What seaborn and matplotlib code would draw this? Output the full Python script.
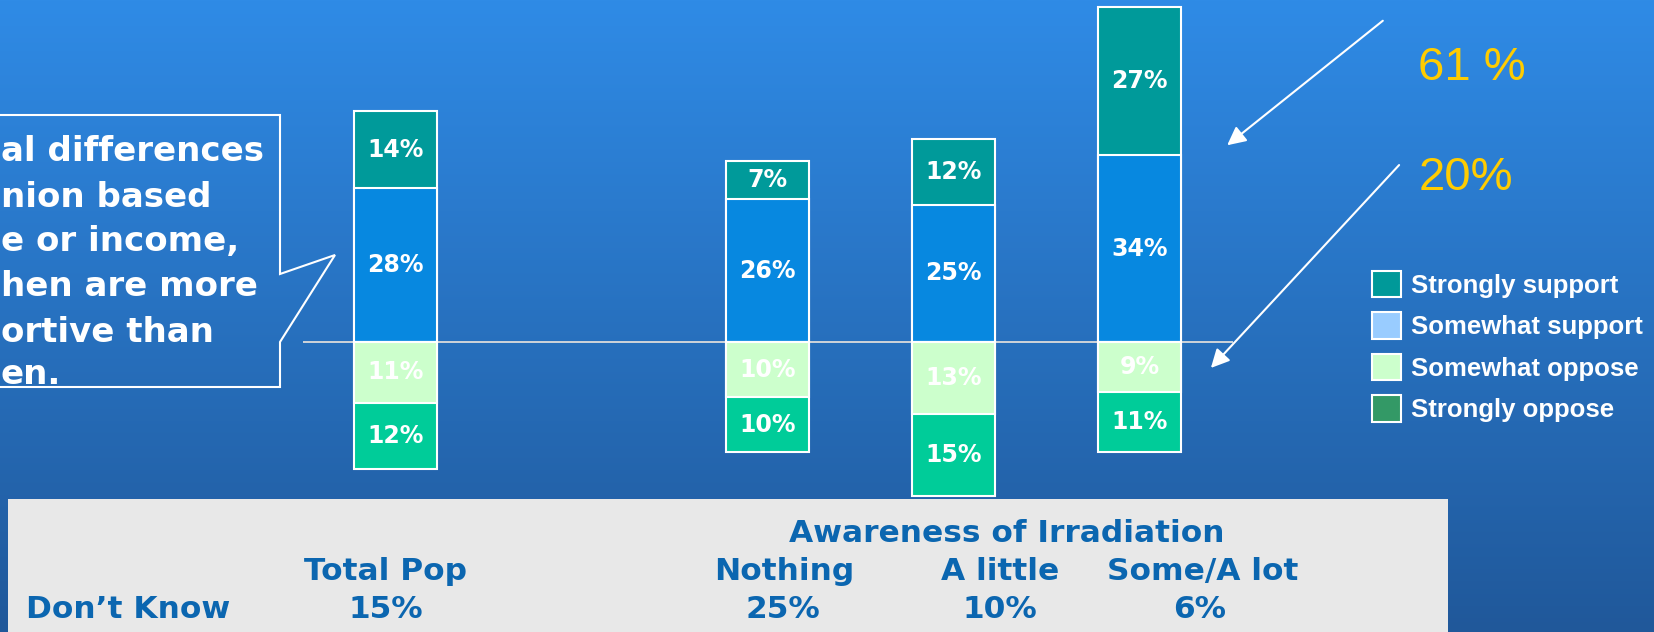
import numpy as np
import matplotlib
matplotlib.use("Agg")
import matplotlib.pyplot as plt
from matplotlib.patches import Patch, Polygon, Rectangle
import seaborn as sns

# data
groups = ["Total Pop", "Nothing", "A little", "Some/A lot"]
strongly_support = [14, 7, 12, 27]
somewhat_support = [28, 26, 25, 34]
somewhat_oppose = [11, 10, 13, 9]
strongly_oppose = [12, 10, 15, 11]
dont_know = ["15%", "25%", "10%", "6%"]
legend_labels = ["Strongly support", "Somewhat support", "Somewhat oppose", "Strongly oppose"]
callout_lines = ["al differences", "nion based", "e or income,", "hen are more", "ortive than", "en."]
support_total = "61 %"
oppose_total = "20%"

bar_pos = [0, 2, 3, 4]

# colours
c_ss = "#009a9a"
c_sw = "#0788e0"
c_so = "#ccffcc"
c_sop = "#00cc99"
legend_colors = ["#009999", "#99ccff", "#ccffcc", "#339966"]
table_blue = "#0b66b0"

sns.set_style("white")
W, H = 1654, 632
fig = plt.figure(figsize=(W / 100, H / 100), dpi=100)

# background gradient
bg = fig.add_axes([0, 0, 1, 1], zorder=0)
top = np.array([47, 139, 230]) / 255
bot = np.array([32, 88, 154]) / 255
t = np.linspace(0, 1, 256)[:, None]
grad = (top[None, :] * (1 - t) + bot[None, :] * t)[:, None, :]
bg.imshow(grad, aspect="auto", extent=[0, 1, 0, 1])
bg.set_axis_off()

# bars
ax = fig.add_axes([0, 0, 1, 1], zorder=1)
ax.patch.set_alpha(0)
pos_total = [a + b for a, b in zip(strongly_support, somewhat_support)]
neg_total = [-(a + b) for a, b in zip(somewhat_oppose, strongly_oppose)]
bar_kw = dict(native_scale=True, width=0.45, saturation=1, edgecolor="white",
              linewidth=1.5, errorbar=None, ax=ax, zorder=3)
sns.barplot(x=bar_pos, y=pos_total, color=c_ss, **bar_kw)
sns.barplot(x=bar_pos, y=somewhat_support, color=c_sw, **bar_kw)
sns.barplot(x=bar_pos, y=neg_total, color=c_sop, **bar_kw)
sns.barplot(x=bar_pos, y=[-v for v in somewhat_oppose], color=c_so, **bar_kw)
ax.hlines(0, -0.5, 4.5, color="#dcdcdc", lw=1.3, zorder=2)

lab_kw = dict(ha="center", va="center", color="white", fontsize=17,
              fontweight="bold", family="DejaVu Sans", zorder=5)
for i, x in enumerate(bar_pos):
    ax.text(x, somewhat_support[i] + strongly_support[i] / 2, f"{strongly_support[i]}%", **lab_kw)
    ax.text(x, somewhat_support[i] / 2, f"{somewhat_support[i]}%", **lab_kw)
    ax.text(x, -somewhat_oppose[i] / 2, f"{somewhat_oppose[i]}%", **lab_kw)
    ax.text(x, -(somewhat_oppose[i] + strongly_oppose[i] / 2), f"{strongly_oppose[i]}%", **lab_kw)

ax.set_xlim(-395.5 / 186, (W - 395.5) / 186)
ax.set_ylim(-(H - 342) / 5.5, 342 / 5.5)
ax.set_axis_off()

# overlay in pixel coordinates
ov = fig.add_axes([0, 0, 1, 1], zorder=2)
ov.patch.set_alpha(0)
ov.set_xlim(0, W)
ov.set_ylim(H, 0)
ov.set_axis_off()

# callout box
ov.add_patch(Polygon([(-10, 115), (280, 115), (280, 274), (335, 255), (280, 342),
                      (280, 387), (-10, 387)], closed=True, fill=False,
                     edgecolor="white", lw=1.5))
baselines = [161, 207, 251, 296, 342, 384]
for line, yb in zip(callout_lines, baselines):
    ov.text(1, yb, line, ha="left", va="baseline", color="white",
            fontsize=24.5, fontweight="bold", family="DejaVu Sans")

# arrows and totals
arr = dict(arrowstyle="-|>", color="white", lw=1.5, mutation_scale=28)
ov.annotate("", xy=(1225, 147), xytext=(1385, 19), arrowprops=arr)
ov.annotate("", xy=(1209, 370), xytext=(1401, 163), arrowprops=arr)
ov.text(1418, 80, support_total, ha="left", va="baseline", color="#ffcc00",
        fontsize=34, family="Liberation Sans")
ov.text(1419, 190, oppose_total, ha="left", va="baseline", color="#ffcc00",
        fontsize=34, family="Liberation Sans")

# legend
handles = [Patch(facecolor=c, edgecolor="white", linewidth=1.5) for c in legend_colors]
leg = ov.legend(handles, legend_labels, loc="upper left", bbox_to_anchor=(1359, 258),
                bbox_transform=ov.transData, frameon=False, borderpad=0,
                handlelength=1.15, handleheight=1.2, handletextpad=0.36,
                labelspacing=0.57, prop=dict(family="Liberation Sans", weight="bold", size=18.5))
for txt in leg.get_texts():
    txt.set_color("white")

# table
ov.add_patch(Rectangle((8, 499), 1440, 140, facecolor="#e8e8e8", edgecolor="none"))
tkw = dict(color=table_blue, fontsize=22.5, fontweight="bold", family="DejaVu Sans", va="baseline")
ov.text(1007, 542, "Awareness of Irradiation", ha="center", **tkw)
col_x = [386, 784, 1000, 1203]
val_x = [386, 783, 1000, 1200]
for g, xg in zip(groups, col_x):
    ov.text(xg, 580, g, ha="center", **tkw)
ov.text(26, 618, "Don\u2019t Know", ha="left", **tkw)
for v, xv in zip(dont_know, val_x):
    ov.text(xv, 618, v, ha="center", **tkw)

fig.savefig("out.png", dpi=100)
